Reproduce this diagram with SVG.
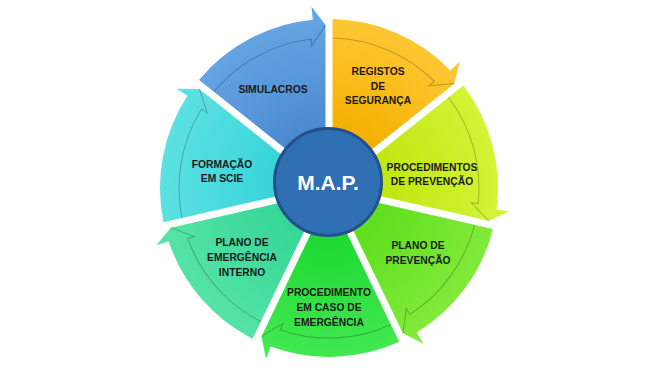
<svg xmlns="http://www.w3.org/2000/svg" xmlns:xlink="http://www.w3.org/1999/xlink" width="666" height="375" viewBox="0 0 666 375">
<style>
.lbl{font-family:"Liberation Sans",Arial,sans-serif;font-weight:bold;font-size:10.3px;fill:#1a1a1a;text-anchor:middle}
.edge{fill:none;stroke:#000;stroke-opacity:0.22;stroke-width:1.1;stroke-linejoin:miter}
.hub{font-family:"Liberation Sans",Arial,sans-serif;font-weight:bold;font-size:21px;fill:#ffffff;text-anchor:middle}
</style>
<defs>
<path id="seg" d="M -3.5,-7.27 L -129.91,-108.09 A 169 169 0 0 1 -16.2,-168.2 L -17.44,-181.16 L -3.5,-163 Z"/>
<path id="band" d="M -115.06,-96.24 A 150 150 0 0 1 -17.76,-148.95 L -17.43,-141.93 L -3.5,-163"/>
<radialGradient id="gSim" gradientUnits="userSpaceOnUse" cx="0" cy="0" r="185"><stop offset="0.3" stop-color="#4b89cf"/><stop offset="1" stop-color="#68a8e4"/></radialGradient>
<radialGradient id="gReg" gradientUnits="userSpaceOnUse" cx="0" cy="0" r="185"><stop offset="0.3" stop-color="#f4b000"/><stop offset="1" stop-color="#ffca3a"/></radialGradient>
<radialGradient id="gPP" gradientUnits="userSpaceOnUse" cx="0" cy="0" r="185"><stop offset="0.3" stop-color="#c0e710"/><stop offset="1" stop-color="#d6f53c"/></radialGradient>
<radialGradient id="gPlP" gradientUnits="userSpaceOnUse" cx="0" cy="0" r="185"><stop offset="0.3" stop-color="#5fdf1e"/><stop offset="1" stop-color="#86ec3e"/></radialGradient>
<radialGradient id="gPE" gradientUnits="userSpaceOnUse" cx="0" cy="0" r="185"><stop offset="0.3" stop-color="#20da34"/><stop offset="1" stop-color="#46ea54"/></radialGradient>
<radialGradient id="gPEI" gradientUnits="userSpaceOnUse" cx="0" cy="0" r="185"><stop offset="0.3" stop-color="#36d796"/><stop offset="1" stop-color="#5ae4aa"/></radialGradient>
<radialGradient id="gFor" gradientUnits="userSpaceOnUse" cx="0" cy="0" r="185"><stop offset="0.3" stop-color="#38d4da"/><stop offset="1" stop-color="#62e2e2"/></radialGradient>
</defs>

<g id="simulacros">
<use xlink:href="#seg" href="#seg" fill="url(#gSim)" transform="translate(329,188) rotate(0)"/>
<use xlink:href="#band" href="#band" class="edge" transform="translate(329,188) rotate(0)"/>
<text class="lbl" x="273" y="92.7">SIMULACROS</text>
</g>

<g id="registos">
<use xlink:href="#seg" href="#seg" fill="url(#gReg)" transform="translate(329,188) rotate(51.4286)"/>
<use xlink:href="#band" href="#band" class="edge" transform="translate(329,188) rotate(51.4286)"/>
<text class="lbl" x="378" y="75.4">REGISTOS</text>
<text class="lbl" x="378" y="89.7">DE</text>
<text class="lbl" x="378" y="104.4">SEGURANÇA</text>
</g>

<g id="procedimentos-prevencao">
<use xlink:href="#seg" href="#seg" fill="url(#gPP)" transform="translate(329,188) rotate(102.857)"/>
<use xlink:href="#band" href="#band" class="edge" transform="translate(329,188) rotate(102.857)"/>
<text class="lbl" x="432" y="171">PROCEDIMENTOS</text>
<text class="lbl" x="432" y="185.4">DE PREVENÇÃO</text>
</g>

<g id="plano-prevencao">
<use xlink:href="#seg" href="#seg" fill="url(#gPlP)" transform="translate(329,188) rotate(154.286)"/>
<use xlink:href="#band" href="#band" class="edge" transform="translate(329,188) rotate(154.286)"/>
<text class="lbl" x="418" y="248.7">PLANO DE</text>
<text class="lbl" x="418" y="263.7">PREVENÇÃO</text>
</g>

<g id="procedimento-emergencia">
<use xlink:href="#seg" href="#seg" fill="url(#gPE)" transform="translate(329,188) rotate(205.714)"/>
<use xlink:href="#band" href="#band" class="edge" transform="translate(329,188) rotate(205.714)"/>
<text class="lbl" x="329" y="296.4">PROCEDIMENTO</text>
<text class="lbl" x="329" y="311.4">EM CASO DE</text>
<text class="lbl" x="329" y="326.4">EMERGÊNCIA</text>
</g>

<g id="plano-emergencia">
<use xlink:href="#seg" href="#seg" fill="url(#gPEI)" transform="translate(329,188) rotate(257.143)"/>
<use xlink:href="#band" href="#band" class="edge" transform="translate(329,188) rotate(257.143)"/>
<text class="lbl" x="242" y="246">PLANO DE</text>
<text class="lbl" x="242" y="261">EMERGÊNCIA</text>
<text class="lbl" x="242" y="275.7">INTERNO</text>
</g>

<g id="formacao">
<use xlink:href="#seg" href="#seg" fill="url(#gFor)" transform="translate(329,188) rotate(308.571)"/>
<use xlink:href="#band" href="#band" class="edge" transform="translate(329,188) rotate(308.571)"/>
<text class="lbl" x="222" y="167.7">FORMAÇÃO</text>
<text class="lbl" x="222" y="182">EM SCIE</text>
</g>

<g id="map">
<circle cx="328" cy="182" r="53.5" fill="#2f70b4" stroke="#24508c" stroke-width="3"/>
<text class="hub" x="328" y="189.5">M.A.P.</text>
</g>
</svg>
